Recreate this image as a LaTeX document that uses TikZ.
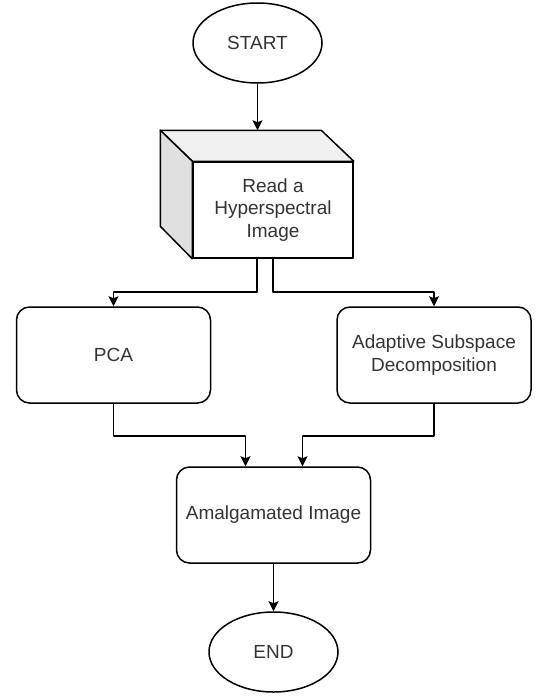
\documentclass[tikz,border=0pt]{standalone}
\usepackage{fontspec}
\setmainfont{Liberation Sans}
\usetikzlibrary{shapes.geometric, arrows.meta, calc}

\tikzset{
  terminal/.style={draw, ellipse, minimum width=129pt, minimum height=80pt, inner sep=0pt},
  process/.style={draw, rounded corners=13pt, minimum width=194pt, minimum height=96pt, align=center, inner sep=0pt},
  flow/.style={-{Stealth[length=10pt, width=10pt, inset=2pt]}},
}

\begin{document}
\begin{tikzpicture}[x=1pt, y=-1pt, line width=1.5pt, line join=round,
  font=\fontsize{19}{22.5}\selectfont, text=black!80]
\useasboundingbox (0,0) rectangle (536,696);

% Terminals and steps
\node[terminal] (start) at (257.5,43) {START};
\node[draw, fill=white, minimum width=160pt, minimum height=96pt, align=center, inner sep=0pt]
  (read) at (273,210) {Read a\\Hyperspectral\\Image};
\node[process] (pca) at (113.5,355) {PCA};
\node[process] (asd) at (434,355) {Adaptive Subspace\\Decomposition};
\node[process] (amal) at (273.5,515) {Amalgamated Image};
\node[terminal] (end) at (273.5,652) {END};

% Top and side faces of the cube
\coordinate (cubeback) at ($(read.north west)+(-32,-31)$);
\draw[fill=black!6] (read.north west) -- (cubeback) -- ++(161,0) -- (read.north east) -- cycle;
\draw[fill=black!12] (read.north west) -- (cubeback) -- ++(0,96) -- (read.south west) -- cycle;

% Connectors
\draw[flow] (start.south) -- (start.south |- cubeback);
\draw[flow] ([xshift=-16pt]read.south) -- ++(0,33) -| (pca.north);
\draw[flow] (read.south) -- ++(0,33) -| (asd.north);
\draw[flow] (pca.south) -- ++(0,32) -| ([xshift=-28pt]amal.north);
\draw[flow] (asd.south) -- ++(0,32) -| ([xshift=29pt]amal.north);
\draw[flow] (amal.south) -- (end.north);
\end{tikzpicture}
\end{document}
